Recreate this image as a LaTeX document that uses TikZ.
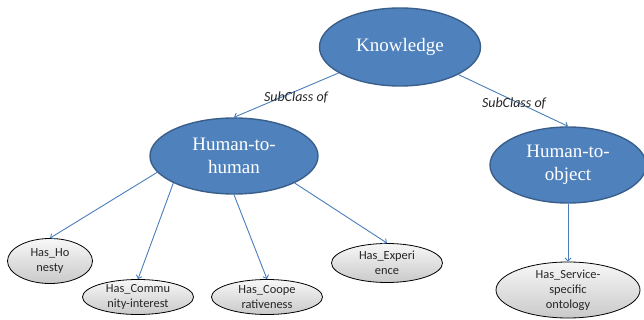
\documentclass[tikz,border=0pt]{standalone}
\usepackage{fontspec}
\setmainfont{Liberation Serif}
\newfontfamily\calib{Carlito}
\usetikzlibrary{shapes.geometric,arrows.meta}
\definecolor{bfill}{HTML}{4F81BD}
\definecolor{bdr}{HTML}{3A5F8B}
\definecolor{acol}{HTML}{4A7EBB}
\tikzset{
  blueell/.style={ellipse, draw=bdr, fill=bfill, line width=1.4pt, inner sep=0pt},
  grayell/.style={ellipse, draw=black, line width=0.8pt, top color=gray!6, bottom color=gray!42, inner sep=0pt},
  btxt/.style={text=white, font=\fontsize{19}{23}\selectfont, align=center, inner sep=0pt},
  gtxt/.style={text=black!85, font=\calib\fontsize{12.4}{14.8}\selectfont, align=center, inner sep=0pt},
  lbl/.style={text=black!85, font=\calib\itshape\fontsize{14}{16}\selectfont, inner sep=0pt},
  arr/.style={draw=acol, line width=0.9pt, -{Straight Barb[length=3pt,width=6pt]}}
}
\begin{document}
\begin{tikzpicture}[x=1pt,y=-1pt]
\useasboundingbox (0,0) rectangle (644,320);
% blue ellipses
\node[blueell, minimum width=161pt, minimum height=78pt] (k) at (400,47) {};
\node[btxt] (kt) at (k) {Knowledge};
\node[blueell, minimum width=168pt, minimum height=76pt] (h2h) at (234,156) {};
\node[btxt] (h2ht) at (h2h) {Human-to-\\human};
\node[blueell, minimum width=156pt, minimum height=76pt] (h2o) at (568,165) {};
\node[btxt] (h2ot) at (h2o) {Human-to-\\object};
% gray ellipses
\node[grayell, minimum width=85pt, minimum height=45pt] (hon) at (50,261) {};
\node[gtxt] (hont) at (hon) {Has\_Ho\\nesty};
\node[grayell, minimum width=111pt, minimum height=35pt] (com) at (138,297) {};
\node[gtxt] (comt) at (com) {Has\_Commu\\nity-interest};
\node[grayell, minimum width=111pt, minimum height=35pt] (coop) at (267,297) {};
\node[gtxt] (coopt) at (coop) {Has\_Coope\\rativeness};
\node[grayell, minimum width=111pt, minimum height=39pt] (exp) at (387,263) {};
\node[gtxt] (expt) at (exp) {Has\_Experi\\ence};
\node[grayell, minimum width=144pt, minimum height=56pt] (svc) at (568,290) {};
\node[gtxt] (svct) at (svc) {Has\_Service-\\specific\\ontology};
% connectors
\draw[arr] (k) -- (h2h.north);
\draw[arr] (k) -- (h2o.north);
\draw[arr] (h2h.192) -- (hon.north);
\draw[arr] (h2h.204) -- (com.north);
\draw[arr] (h2h.south) -- (coop.north);
\draw[arr] (h2h.336) -- (exp.north);
\draw[arr] (h2o.south) -- (svc.north);
% labels
\node[lbl] (l1) at (296,97) {SubClass of};
\node[lbl] (l2) at (514,103) {SubClass of};
\end{tikzpicture}
\end{document}
